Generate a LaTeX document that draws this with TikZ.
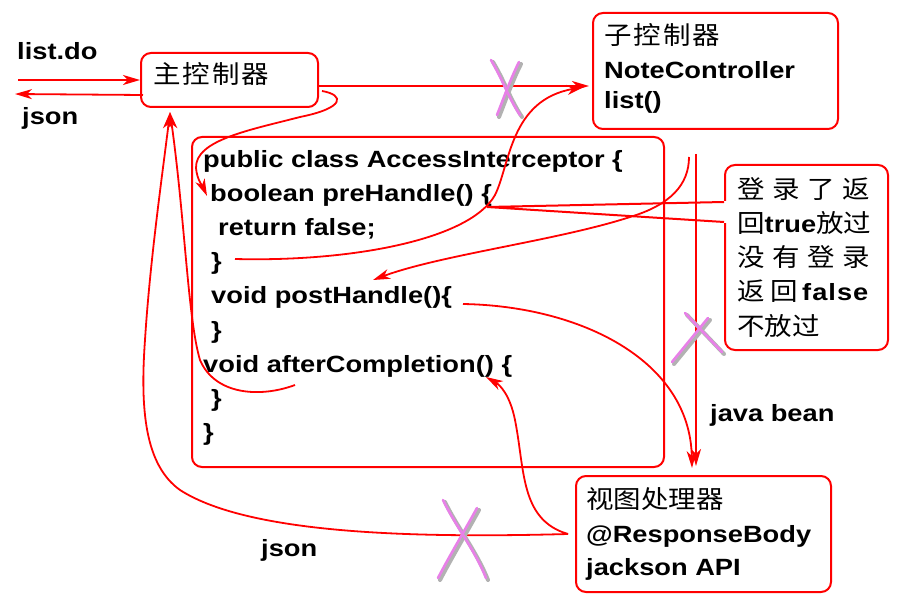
\documentclass[tikz,border=0pt]{standalone}
\usepackage{fontspec}
\setmainfont{Liberation Sans}[FakeStretch=1.16]
\newfontfamily\cjkf{Noto Sans CJK SC}[FakeStretch=1.1]
\usetikzlibrary{arrows.meta}
\definecolor{rd}{RGB}{255,0,0}
\definecolor{xv}{RGB}{232,128,232}
\newcommand\lat{\fontsize{23.5pt}{28pt}\selectfont\rmfamily\bfseries}
\newcommand\zh{\fontsize{25pt}{28pt}\selectfont\cjkf\mdseries}
\tikzset{
  box/.style={draw=rd, line width=2pt, rounded corners=10pt, inner sep=0pt, anchor=north west},
  conn/.style={draw=rd, line width=1.8pt},
  arr/.style={conn, -{Stealth[length=17pt,width=10pt,inset=5pt]}},
  txt/.style={inner sep=0pt, anchor=base west, font=\lat},
  xsh/.style={draw=black!30, line width=4pt, line cap=round, xshift=2pt, yshift=-2pt},
  xm/.style={draw=xv, line width=2.6pt, line cap=round},
}
\begin{document}
\begin{tikzpicture}[x=1pt,y=-1pt]
\useasboundingbox (0,0) rectangle (903,604);
\fill[white] (0,0) rectangle (903,604);
% boxes
\node[box, minimum width=177pt, minimum height=54pt] (main) at (140,52) {};
\node[box, minimum width=245pt, minimum height=116pt] (sub) at (592,12) {};
\node[box, minimum width=472pt, minimum height=330pt] (code) at (191,136) {};
\node[box, minimum width=163pt, minimum height=185pt] (callout) at (724,164) {};
\node[box, minimum width=255pt, minimum height=116pt] (view) at (575,475) {};
% callout pointer
\coordinate (ptip) at (487,207);
\fill[white] ([yshift=-37pt]callout.north west) rectangle ([xshift=3pt,yshift=-59pt]callout.north west);
\draw[conn, line width=2pt] ([yshift=-38pt]callout.north west) -- (ptip) -- ([yshift=-58pt]callout.north west);
% texts
\node[txt] (listdo) at (17,60) {list.do};
\node[txt] (json1) at (22,125) {json};
\node[txt, font=\zh] (maint) at (153,84) {主\hspace{2pt}控\hspace{2pt}制\hspace{2pt}器};
\node[txt, font=\zh] (sub1) at (604,45) {子\hspace{2pt}控\hspace{2pt}制\hspace{2pt}器};
\node[txt] (sub2) at (604,79) {NoteController};
\node[txt] (sub3) at (604,109) {list()};
\node[txt] (c1) at (203,168) {public class AccessInterceptor \{};
\node[txt] (c2) at (210,202) {boolean preHandle() \{};
\node[txt] (c3) at (218,236) {return false;};
\node[txt] (c4) at (211,270) {\}};
\node[txt] (c5) at (211,304) {void postHandle()\{};
\node[txt] (c6) at (211,338) {\}};
\node[txt] (c7) at (203,372) {void afterCompletion() \{};
\node[txt] (c8) at (211,406) {\}};
\node[txt] (c9) at (203,440) {\}};
\node[txt, font=\zh] (k1) at (737,199) {登\hspace{7.5pt}录\hspace{7.5pt}了\hspace{7.5pt}返};
\node[txt, font=\zh] (k2) at (737,233) {回{\lat true}放过};
\node[txt, font=\zh] (k3) at (737,267) {没\hspace{7.5pt}有\hspace{7.5pt}登\hspace{7.5pt}录};
\node[txt, font=\zh] (k4) at (737,301) {返\hspace{6pt}回\hspace{4pt}{\lat f\kern1pt a\kern1pt l\kern1pt s\kern1pt e}};
\node[txt, font=\zh] (k5) at (737,335) {不放过};
\node[txt] (jbean) at (710,421) {java bean};
\node[txt] (json2) at (261,556) {json};
\node[txt, font=\zh] (v1) at (586,508) {视图处理器};
\node[txt] (v2) at (586,542) {@ResponseBody};
\node[txt] (v3) at (586,575) {jackson API};
% connectors
\coordinate (in1) at (18,80);
\coordinate (out1) at (15,94);
\draw[arr] (in1) -- (main.west |- in1);
\draw[arr] ([yshift=-15pt,xshift=3pt]main.west) -- (out1);
\draw[arr, shorten >=3pt] ([yshift=-6pt]main.east) -- ([yshift=-6pt]main.east -| sub.west);
\coordinate (m1) at (322,91);
\draw[arr] (m1) .. controls (345,95) and (345,108) .. (300,117) .. controls (250,130) and (195,140) .. (196,168) .. controls (197,180) and (203,187) .. ([xshift=-3pt]c2.west);
\coordinate (s4) at (235,259);
\coordinate (subin) at (584,87);
\draw[arr] (s4) .. controls (350,262) and (470,240) .. (495,195) .. controls (510,165) and (510,100) .. (subin);
\coordinate (s5) at (689,157);
\coordinate (ph) at (373,280);
\draw[arr] (s5) .. controls (689,185) and (670,205) .. (630,217) .. controls (560,240) and (440,255) .. (ph);
\coordinate (jb1) at (696,154);
\draw[arr] (jb1) -- ([yshift=9pt]view.north -| jb1);
\coordinate (s8) at (463,304);
\draw[arr] (s8) .. controls (580,306) and (690,360) .. ([xshift=-4pt,yshift=7pt]view.north -| jb1);
\coordinate (ac) at (486,377);
\draw[arr] ([xshift=-7pt]view.west) .. controls (520,520) and (525,470) .. (515,420) .. controls (510,395) and (500,385) .. (ac);
\coordinate (mainin) at (170,112);
\draw[arr] ([xshift=-7pt]view.west) .. controls (420,538) and (250,535) .. (180,490) .. controls (145,465) and (140,410) .. (145,340) .. controls (150,260) and (163,170) .. (mainin);
\coordinate (s11) at (295,385);
\draw[arr] (s11) .. controls (260,398) and (215,395) .. (200,360) .. controls (188,320) and (185,220) .. (mainin);
% crosses
\foreach \s in {xsh,xm}{
  \draw[\s] (491,60) .. controls (503,80) and (508,97) .. (520,115);
  \draw[\s] (519,62) .. controls (510,80) and (503,100) .. (497,115);
  \draw[\s] (685,313) -- (722,352);
  \draw[\s] (708,318) -- (672,362);
  \draw[\s] (443,500) .. controls (455,525) and (475,550) .. (486,578);
  \draw[\s] (477,508) .. controls (465,530) and (450,555) .. (438,578);
}
\end{tikzpicture}
\end{document}
